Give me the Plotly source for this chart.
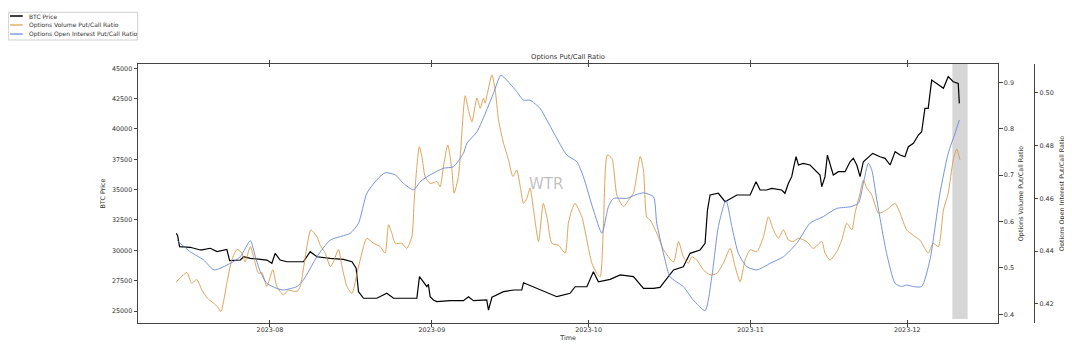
import plotly.graph_objects as go

# ---------------- data ----------------
btc_time = [
    "2023-07-14 02:00", "2023-07-14 08:00", "2023-07-14 17:00", "2023-07-16 18:00", "2023-07-18 16:00",
    "2023-07-19 00:00", "2023-07-20 14:00", "2023-07-21 21:00", "2023-07-23 18:00", "2023-07-24 07:00",
    "2023-07-26 08:00", "2023-07-26 23:00", "2023-07-28 06:00", "2023-07-31 10:00", "2023-08-01 09:00",
    "2023-08-02 00:00", "2023-08-02 23:00", "2023-08-04 06:00", "2023-08-04 21:00", "2023-08-07 10:00",
    "2023-08-08 17:00", "2023-08-10 00:00", "2023-08-12 13:00", "2023-08-15 02:00", "2023-08-16 17:00",
    "2023-08-17 12:00", "2023-08-17 23:00", "2023-08-18 22:00", "2023-08-21 11:00", "2023-08-23 09:00",
    "2023-08-24 16:00", "2023-08-29 03:00", "2023-08-29 15:00", "2023-08-31 01:00", "2023-08-31 08:00",
    "2023-08-31 16:00", "2023-09-01 07:00", "2023-09-01 23:00", "2023-09-04 12:00", "2023-09-07 01:00",
    "2023-09-08 00:00", "2023-09-08 23:00", "2023-09-11 12:00", "2023-09-11 20:00", "2023-09-12 12:00",
    "2023-09-14 17:00", "2023-09-16 15:00", "2023-09-18 05:00", "2023-09-18 13:00", "2023-09-20 11:00",
    "2023-09-21 17:00", "2023-09-23 15:00", "2023-09-24 22:00", "2023-09-27 11:00", "2023-09-28 10:00",
    "2023-09-30 16:00", "2023-10-01 22:00", "2023-10-02 21:00", "2023-10-05 03:00", "2023-10-07 01:00",
    "2023-10-09 14:00", "2023-10-11 12:00", "2023-10-13 10:00", "2023-10-14 16:00", "2023-10-16 06:00",
    "2023-10-17 06:00", "2023-10-19 03:00", "2023-10-20 10:00", "2023-10-22 08:00", "2023-10-23 07:00",
    "2023-10-23 18:00", "2023-10-23 22:00", "2023-10-24 06:00", "2023-10-25 20:00", "2023-10-27 03:00",
    "2023-10-29 09:00", "2023-10-31 22:00", "2023-11-02 01:00", "2023-11-02 20:00", "2023-11-04 02:00",
    "2023-11-05 01:00", "2023-11-06 23:00", "2023-11-07 14:00", "2023-11-08 06:00", "2023-11-08 21:00",
    "2023-11-09 08:00", "2023-11-09 17:00", "2023-11-10 04:00", "2023-11-11 02:00", "2023-11-12 09:00",
    "2023-11-13 16:00", "2023-11-14 07:00", "2023-11-14 15:00", "2023-11-15 06:00", "2023-11-15 17:00",
    "2023-11-16 05:00", "2023-11-16 20:00", "2023-11-17 19:00", "2023-11-19 02:00", "2023-11-20 01:00",
    "2023-11-20 16:00", "2023-11-21 08:00", "2023-11-21 23:00", "2023-11-22 14:00", "2023-11-23 06:00",
    "2023-11-24 09:00", "2023-11-25 19:00", "2023-11-26 18:00", "2023-11-27 17:00", "2023-11-28 16:00",
    "2023-11-29 15:00", "2023-11-30 13:00", "2023-12-01 05:00", "2023-12-02 04:00", "2023-12-03 03:00",
    "2023-12-03 18:00", "2023-12-04 09:00", "2023-12-05 00:00", "2023-12-05 16:00", "2023-12-06 15:00",
    "2023-12-07 22:00", "2023-12-08 20:00", "2023-12-09 19:00", "2023-12-10 18:00", "2023-12-10 23:00",
]
btc_price = [
    31400, 31200, 30300, 30250, 30030,
    30030, 30170, 29890, 30080, 29150,
    29200, 29470, 29340, 29200, 28930,
    29750, 29200, 29060, 29060, 29060,
    29890, 29470, 29340, 29260, 29060,
    28520, 26590, 26050, 26050, 26460,
    26050, 26050, 27830, 27000, 27200,
    26180, 25910, 25770, 25850, 25850,
    26180, 25850, 25910, 25080, 26130,
    26590, 26730, 26730, 27330, 27000,
    26730, 26460, 26180, 26460, 27000,
    27000, 28240, 27410, 27610, 27970,
    27830, 26870, 26870, 26950, 27830,
    28380, 28650, 29750, 30030, 30580,
    33320, 33870, 34560, 34700, 34010,
    34560, 34560, 35650, 34970, 34970,
    35110, 34970, 34700, 35520, 36070,
    37030, 37710, 37030, 37170, 37030,
    36480, 36210, 35240, 36070, 37850,
    37170, 36210, 36480, 36480, 37300,
    37580, 37030, 36070, 37300, 37580,
    37990, 37710, 37580, 37030, 38130,
    37850, 37710, 38540, 38820, 39500,
    39770, 41700, 41700, 44030, 43760,
    43350, 44310, 43890, 43760, 42110,
]

vol_time = [
    "2023-07-14 02:00", "2023-07-16 03:00", "2023-07-17 00:00", "2023-07-18 00:00", "2023-07-19 00:00",
    "2023-07-20 00:00", "2023-07-21 05:00", "2023-07-22 00:00", "2023-07-22 15:00", "2023-07-23 18:00",
    "2023-07-24 17:00", "2023-07-25 17:00", "2023-07-26 15:00", "2023-07-27 06:00", "2023-07-28 06:00",
    "2023-07-28 21:00", "2023-07-29 20:00", "2023-07-30 11:00", "2023-07-31 10:00", "2023-08-01 13:00",
    "2023-08-02 08:00", "2023-08-03 14:00", "2023-08-04 13:00", "2023-08-06 04:00", "2023-08-06 19:00",
    "2023-08-08 02:00", "2023-08-08 20:00", "2023-08-10 00:00", "2023-08-10 15:00", "2023-08-11 14:00",
    "2023-08-12 13:00", "2023-08-13 04:00", "2023-08-14 03:00", "2023-08-14 19:00", "2023-08-15 18:00",
    "2023-08-16 17:00", "2023-08-17 16:00", "2023-08-18 22:00", "2023-08-19 13:00", "2023-08-20 20:00",
    "2023-08-22 02:00", "2023-08-23 01:00", "2023-08-23 17:00", "2023-08-24 08:00", "2023-08-25 00:00",
    "2023-08-26 06:00", "2023-08-27 05:00", "2023-08-28 04:00", "2023-08-28 15:00", "2023-08-29 03:00",
    "2023-08-29 14:00", "2023-08-30 02:00", "2023-08-30 17:00", "2023-08-31 16:00", "2023-09-01 23:00",
    "2023-09-02 14:00", "2023-09-03 05:00", "2023-09-04 01:00", "2023-09-04 20:00", "2023-09-05 06:00",
    "2023-09-06 02:00", "2023-09-07 09:00", "2023-09-08 00:00", "2023-09-08 16:00", "2023-09-09 15:00",
    "2023-09-10 06:00", "2023-09-10 21:00", "2023-09-11 05:00", "2023-09-11 15:00", "2023-09-12 12:00",
    "2023-09-13 03:00", "2023-09-13 18:00", "2023-09-14 17:00", "2023-09-15 16:00", "2023-09-16 12:00",
    "2023-09-17 06:00", "2023-09-17 22:00", "2023-09-18 13:00", "2023-09-19 04:00", "2023-09-19 19:00",
    "2023-09-20 11:00", "2023-09-21 10:00", "2023-09-22 08:00", "2023-09-23 03:00", "2023-09-23 23:00",
    "2023-09-25 05:00", "2023-09-26 12:00", "2023-09-27 03:00", "2023-09-27 19:00", "2023-09-28 10:00",
    "2023-09-29 17:00", "2023-09-30 16:00", "2023-10-01 15:00", "2023-10-02 14:00", "2023-10-03 05:00",
    "2023-10-03 20:00", "2023-10-04 14:00", "2023-10-05 11:00", "2023-10-06 10:00", "2023-10-07 16:00",
    "2023-10-08 15:00", "2023-10-09 14:00", "2023-10-10 21:00", "2023-10-11 12:00", "2023-10-12 03:00",
    "2023-10-12 19:00", "2023-10-14 01:00", "2023-10-14 16:00", "2023-10-15 08:00", "2023-10-17 06:00",
    "2023-10-18 05:00", "2023-10-19 03:00", "2023-10-20 02:00", "2023-10-20 18:00", "2023-10-21 17:00",
    "2023-10-22 23:00", "2023-10-24 06:00", "2023-10-25 13:00", "2023-10-26 19:00", "2023-10-28 02:00",
    "2023-10-29 01:00", "2023-10-30 00:00", "2023-10-30 23:00", "2023-10-31 22:00", "2023-11-02 05:00",
    "2023-11-03 11:00", "2023-11-04 10:00", "2023-11-05 09:00", "2023-11-06 08:00", "2023-11-07 07:00",
    "2023-11-08 06:00", "2023-11-09 05:00", "2023-11-10 04:00", "2023-11-11 17:00", "2023-11-13 00:00",
    "2023-11-14 15:00", "2023-11-15 06:00", "2023-11-16 05:00", "2023-11-17 12:00", "2023-11-18 11:00",
    "2023-11-19 10:00", "2023-11-20 09:00", "2023-11-21 00:00", "2023-11-21 23:00", "2023-11-22 14:00",
    "2023-11-23 06:00", "2023-11-24 05:00", "2023-11-25 11:00", "2023-11-26 10:00", "2023-11-27 09:00",
    "2023-11-28 16:00", "2023-11-29 15:00", "2023-11-30 21:00", "2023-12-02 12:00", "2023-12-03 10:00",
    "2023-12-05 00:00", "2023-12-05 23:00", "2023-12-06 23:00", "2023-12-07 22:00", "2023-12-08 20:00",
    "2023-12-09 19:00", "2023-12-10 11:00", "2023-12-11 02:00",
]
vol_ratio = [
    0.470, 0.490, 0.467, 0.475, 0.452,
    0.435, 0.424, 0.416, 0.406, 0.467,
    0.517, 0.540, 0.532, 0.513, 0.546,
    0.524, 0.488, 0.490, 0.460, 0.496,
    0.460, 0.442, 0.452, 0.449, 0.460,
    0.546, 0.582, 0.567, 0.549, 0.532,
    0.503, 0.513, 0.540, 0.503, 0.460,
    0.445, 0.488, 0.546, 0.564, 0.553,
    0.546, 0.532, 0.593, 0.575, 0.553,
    0.553, 0.542, 0.567, 0.646, 0.718,
    0.761, 0.740, 0.697, 0.682, 0.686,
    0.675, 0.718, 0.765, 0.711, 0.661,
    0.697, 0.871, 0.840, 0.815, 0.866,
    0.844, 0.866, 0.855, 0.876, 0.916,
    0.883, 0.819, 0.769, 0.733, 0.697,
    0.711, 0.675, 0.639, 0.650, 0.672,
    0.625, 0.557, 0.639, 0.603, 0.553,
    0.549, 0.532, 0.596, 0.625, 0.639,
    0.610, 0.560, 0.510, 0.488, 0.481,
    0.589, 0.743, 0.736, 0.657, 0.632,
    0.646, 0.661, 0.740, 0.711, 0.610,
    0.603, 0.575, 0.557, 0.539, 0.513,
    0.557, 0.524, 0.510, 0.524, 0.517,
    0.496, 0.485, 0.488, 0.510, 0.542,
    0.503, 0.470, 0.517, 0.539, 0.535,
    0.567, 0.610, 0.582, 0.564, 0.582,
    0.560, 0.557, 0.564, 0.557, 0.542,
    0.557, 0.532, 0.517, 0.535, 0.560,
    0.596, 0.582, 0.618, 0.661, 0.689,
    0.672, 0.657, 0.618, 0.621, 0.628,
    0.639, 0.618, 0.582, 0.567, 0.560,
    0.532, 0.553, 0.546, 0.625, 0.661,
    0.733, 0.756, 0.733,
]

oi_time = [
    "2023-07-14 05:00", "2023-07-14 20:00", "2023-07-16 18:00", "2023-07-19 07:00", "2023-07-21 08:00",
    "2023-07-24 10:00", "2023-07-26 08:00", "2023-07-28 06:00", "2023-07-29 05:00", "2023-07-30 04:00",
    "2023-07-31 10:00", "2023-08-02 08:00", "2023-08-03 14:00", "2023-08-06 04:00", "2023-08-07 10:00",
    "2023-08-10 00:00", "2023-08-12 13:00", "2023-08-16 09:00", "2023-08-17 23:00", "2023-08-19 13:00",
    "2023-08-21 11:00", "2023-08-23 01:00", "2023-08-25 00:00", "2023-08-26 13:00", "2023-08-28 12:00",
    "2023-08-29 18:00", "2023-08-31 16:00", "2023-09-03 05:00", "2023-09-05 03:00", "2023-09-07 01:00",
    "2023-09-07 17:00", "2023-09-09 15:00", "2023-09-11 12:00", "2023-09-12 19:00", "2023-09-14 05:00",
    "2023-09-15 08:00", "2023-09-17 06:00", "2023-09-18 13:00", "2023-09-19 19:00", "2023-09-21 17:00",
    "2023-09-23 00:00", "2023-09-24 22:00", "2023-09-26 20:00", "2023-09-28 18:00", "2023-09-30 00:00",
    "2023-10-01 22:00", "2023-10-03 13:00", "2023-10-04 19:00", "2023-10-05 18:00", "2023-10-08 07:00",
    "2023-10-09 22:00", "2023-10-11 12:00", "2023-10-13 10:00", "2023-10-14 01:00", "2023-10-15 15:00",
    "2023-10-16 14:00", "2023-10-19 03:00", "2023-10-21 01:00", "2023-10-23 07:00", "2023-10-24 14:00",
    "2023-10-25 20:00", "2023-10-27 07:00", "2023-10-28 10:00", "2023-10-29 16:00", "2023-10-31 07:00",
    "2023-11-02 05:00", "2023-11-04 18:00", "2023-11-07 07:00", "2023-11-09 20:00", "2023-11-12 09:00",
    "2023-11-14 22:00", "2023-11-17 12:00", "2023-11-20 01:00", "2023-11-21 15:00", "2023-11-22 14:00",
    "2023-11-23 13:00", "2023-11-24 05:00", "2023-11-25 04:00", "2023-11-27 01:00", "2023-11-28 16:00",
    "2023-11-29 22:00", "2023-11-30 21:00", "2023-12-02 04:00", "2023-12-03 18:00", "2023-12-05 08:00",
    "2023-12-07 06:00", "2023-12-08 20:00", "2023-12-10 03:00", "2023-12-10 23:00",
]
oi_ratio = [
    0.4442, 0.4430, 0.4398, 0.4367, 0.4329,
    0.4354, 0.4379, 0.4440, 0.4379, 0.4322,
    0.4278, 0.4259, 0.4253, 0.4266, 0.4291,
    0.4379, 0.4442, 0.4468, 0.4506, 0.4619,
    0.4670, 0.4697, 0.4689, 0.4657, 0.4632,
    0.4663, 0.4689, 0.4714, 0.4720, 0.4771,
    0.4809, 0.4852, 0.4935, 0.4998, 0.5067,
    0.5048, 0.5004, 0.4972, 0.4972, 0.4941,
    0.4897, 0.4827, 0.4764, 0.4739, 0.4682,
    0.4556, 0.4468, 0.4568, 0.4600, 0.4600,
    0.4613, 0.4621, 0.4606, 0.4506, 0.4367,
    0.4303, 0.4266, 0.4215, 0.4175, 0.4303,
    0.4493, 0.4594, 0.4493, 0.4392, 0.4341,
    0.4329, 0.4354, 0.4379, 0.4430, 0.4506,
    0.4531, 0.4562, 0.4568, 0.4581, 0.4657,
    0.4733, 0.4707, 0.4594, 0.4392, 0.4278,
    0.4266, 0.4272, 0.4266, 0.4266, 0.4367,
    0.4619, 0.4771, 0.4846, 0.4897,
]

highlight_period = ["2023-12-09 15:00", "2023-12-12 13:00"]

btc_ticks = [25000, 27500, 30000, 32500, 35000, 37500, 40000, 42500, 45000]
vol_ticks = [0.4, 0.5, 0.6, 0.7, 0.8, 0.9]
oi_ticks = [0.42, 0.44, 0.46, 0.48, 0.50]

series_names = ["BTC Price", "Options Volume Put/Call Ratio", "Options Open Interest Put/Call Ratio"]
series_colors = ["black", "#d99a4a", "#6688d8"]
series_widths = [1.2, 0.9, 0.9]

# ---------------- figure ----------------
FONT = "DejaVu Sans"
AX = "#444444"
TXT = "#333333"
fig = go.Figure()

fig.add_trace(go.Scatter(x=btc_time, y=btc_price, name=series_names[0], mode="lines",
                         line=dict(color=series_colors[0], width=series_widths[0]), yaxis="y"))
fig.add_trace(go.Scatter(x=vol_time, y=vol_ratio, name=series_names[1], mode="lines",
                         line=dict(color=series_colors[1], width=series_widths[1], shape="spline", smoothing=0.6),
                         yaxis="y2"))
fig.add_trace(go.Scatter(x=oi_time, y=oi_ratio, name=series_names[2], mode="lines",
                         line=dict(color=series_colors[2], width=series_widths[2], shape="spline", smoothing=0.6),
                         yaxis="y3"))

# highlighted period
fig.add_shape(type="rect", xref="x", yref="paper",
              x0=highlight_period[0], x1=highlight_period[1], y0=0.015, y1=1,
              fillcolor="#d6d6d6", line=dict(width=0), layer="below")

# watermark
fig.add_annotation(text="WTR", xref="paper", yref="paper", x=0.446, y=0.537,
                   showarrow=False, font=dict(family=FONT, size=15, color="rgba(140,140,140,0.55)"))

# legend drawn outside the axes, top-left (matplotlib style, compact)
fig.add_shape(type="rect", xref="paper", yref="paper", x0=-0.1419, x1=-0.0004, y0=1.0927, y1=1.1996,
              line=dict(color="#d0d0d0", width=1), fillcolor="white")
leg_rows = [1.1853, 1.1506, 1.1158]
for name, col, w, yy in zip(series_names, series_colors, series_widths, leg_rows):
    fig.add_shape(type="line", xref="paper", yref="paper", x0=-0.1400, x1=-0.1261, y0=yy, y1=yy,
                  line=dict(color=col, width=w + 0.3))
    fig.add_annotation(text=name, xref="paper", yref="paper", x=-0.1218, y=yy,
                       xanchor="left", yanchor="middle", showarrow=False,
                       font=dict(family=FONT, size=6.0, color=TXT))

tickfont = dict(family=FONT, size=6.4, color=TXT)
titlefont = dict(family=FONT, size=6.4, color=TXT)

# page body adds an 8px offset; figure is sized so the plot lands at the same page pixels
fig.update_layout(
    width=1064, height=347,
    margin=dict(l=130, r=20, t=56, b=32, autoexpand=False),
    paper_bgcolor="white", plot_bgcolor="white",
    font=dict(family=FONT, size=6.4, color=TXT),
    title=dict(text="Options Put/Call Ratio", x=0.4705, xref="paper", xanchor="center",
               y=1 - 49 / 347, yref="container", yanchor="middle",
               font=dict(family=FONT, size=6.8, color=TXT)),
    showlegend=False,
    xaxis=dict(domain=[0, 0.941], type="date",
               range=["2023-07-06 18:00", "2023-12-18 09:00"],
               tick0="2023-08-01", dtick="M1", tickformat="%Y-%m",
               showgrid=False, zeroline=False,
               showline=True, linecolor=AX, linewidth=1, mirror="allticks",
               ticks="inside", ticklen=3, tickcolor=AX,
               tickfont=tickfont, automargin=False,
               title=dict(text="Time", font=titlefont, standoff=1)),
    yaxis=dict(range=[24011, 45353], tickvals=btc_ticks, tickformat="d",
               showgrid=False, zeroline=False,
               showline=True, linecolor=AX, linewidth=1,
               ticks="outside", ticklen=3.5, tickcolor=AX,
               tickfont=tickfont, automargin=False,
               title=dict(text="BTC Price", font=titlefont, standoff=5)),
    yaxis2=dict(range=[0.3813, 0.9394], tickvals=vol_ticks, tickformat=".1f",
                overlaying="y", side="right", anchor="x",
                showgrid=False, zeroline=False,
                showline=True, linecolor=AX, linewidth=1,
                ticks="outside", ticklen=3.5, tickcolor=AX,
                tickfont=tickfont, automargin=False,
                title=dict(text="Options Volume Put/Call Ratio", font=titlefont, standoff=5)),
    yaxis3=dict(range=[0.4128, 0.5109], tickvals=oi_ticks, tickformat=".2f",
                overlaying="y", side="right", anchor="free", position=0.98,
                showgrid=False, zeroline=False,
                showline=True, linecolor=AX, linewidth=1,
                ticks="outside", ticklen=3.5, tickcolor=AX,
                tickfont=tickfont, automargin=False,
                title=dict(text="Options Open Interest Put/Call Ratio", font=titlefont, standoff=6)),
)

fig.write_html("out.html")
